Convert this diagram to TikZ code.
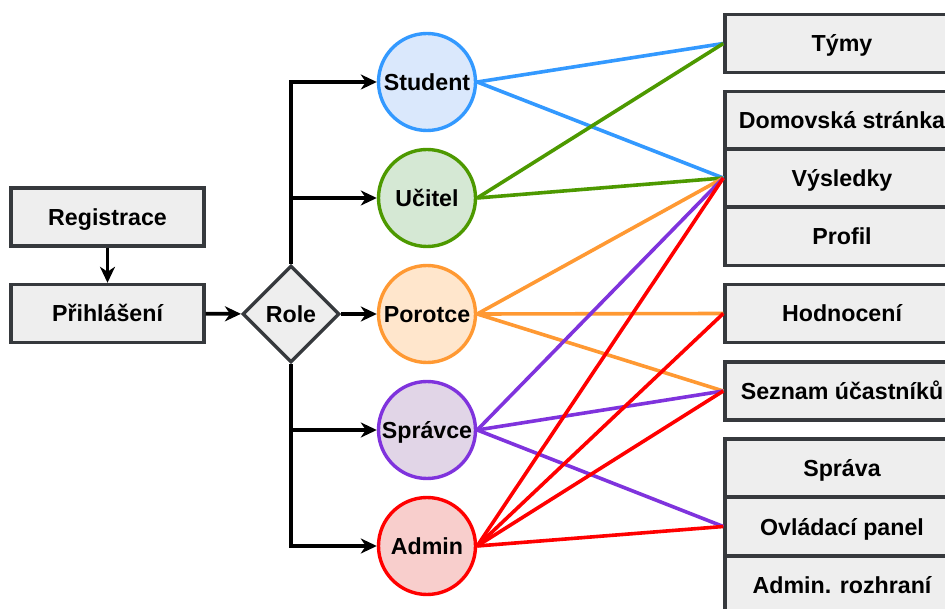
\documentclass[tikz,border=0pt]{standalone}
\usepackage{fontspec}
\setmainfont{Liberation Sans}
\usetikzlibrary{shapes.geometric,arrows.meta}
\definecolor{boxfill}{HTML}{EEEEEE}
\definecolor{boxline}{HTML}{36393D}
\definecolor{cblue}{HTML}{3399FF}
\definecolor{fblue}{HTML}{DAE8FC}
\definecolor{cgreen}{HTML}{4D9900}
\definecolor{fgreen}{HTML}{D5E8D4}
\definecolor{corange}{HTML}{FF9933}
\definecolor{forange}{HTML}{FFE6CC}
\definecolor{cpurple}{HTML}{7F33DD}
\definecolor{fpurple}{HTML}{E1D5E7}
\definecolor{cred}{HTML}{FF0000}
\definecolor{fred}{HTML}{F8CECC}
\tikzset{
  lbl/.style={font=\fontsize{23.2}{27}\selectfont\bfseries, text height=17pt, text depth=0pt},
  sbox/.style={lbl, draw=boxline, fill=boxfill, line width=3.4pt, rectangle, minimum width=234pt, minimum height=58pt, inner sep=0pt},
  lbox/.style={lbl, draw=boxline, fill=boxfill, line width=3.4pt, rectangle, minimum width=193pt, minimum height=58pt, inner sep=0pt},
  role/.style={circle, line width=3.4pt, minimum size=97pt, inner sep=0pt, lbl},
  dia/.style={lbl, diamond, draw=boxline, fill=boxfill, line width=3.4pt, minimum width=97pt, minimum height=97pt, inner sep=0pt, aspect=1},
  arr/.style={line width=3.8pt, -{Stealth[length=16pt,width=15pt,inset=5pt]}},
  link/.style={line width=3.6pt}
}
\begin{document}
\begin{tikzpicture}[x=1pt,y=-1pt]
\useasboundingbox (0,0) rectangle (945,609);
% left flow
\node[lbox] (reg) at (107.5,217) {Registrace};
\node[lbox] (login) at (107.5,313.5) {Přihlášení};
\node[dia] (role) at (291,314) {Role};
% roles
\node[role, draw=cblue, fill=fblue] (stud) at (427,82) {Student};
\node[role, draw=cgreen, fill=fgreen] (teach) at (427,198) {Učitel};
\node[role, draw=corange, fill=forange] (jury) at (427,314) {Porotce};
\node[role, draw=cpurple, fill=fpurple] (mgr) at (427,430) {Správce};
\node[role, draw=cred, fill=fred] (adm) at (427,546) {Admin};
% right boxes
\node[sbox] (teams) at (842,43.5) {Týmy};
\node[sbox] (home) at (842,120.5) {Domovská stránka};
\node[sbox] (res) at (842,178) {Výsledky};
\node[sbox] (prof) at (842,236.5) {Profil};
\node[sbox] (eval) at (842,313.5) {Hodnocení};
\node[sbox] (list) at (842,391) {Seznam účastníků};
\node[sbox] (spr) at (842,468) {Správa};
\node[sbox] (dash) at (842,526.5) {Ovládací panel};
\node[sbox] (admui) at (842,585) {Admin. rozhraní};
% black arrows
\draw[arr] (reg) -- (login);
\draw[arr] (login) -- (role);
\draw[arr] (role.north) |- (stud.west);
\draw[arr] (role.north) |- (teach.west);
\draw[arr] (role) -- (jury);
\draw[arr] (role.south) |- (mgr.west);
\draw[arr] (role.south) |- (adm.west);
% colored links
\draw[link, cblue] (stud.east) -- (teams.west);
\draw[link, cblue] (stud.east) -- (res.west);
\draw[link, cgreen] (teach.east) -- (teams.west);
\draw[link, cgreen] (teach.east) -- (res.west);
\draw[link, corange] (jury.east) -- (res.west);
\draw[link, corange] (jury.east) -- (eval.west);
\draw[link, corange] (jury.east) -- (list.west);
\draw[link, cpurple] (mgr.east) -- (res.west);
\draw[link, cpurple] (mgr.east) -- (list.west);
\draw[link, cpurple] (mgr.east) -- (dash.west);
\draw[link, cred] (adm.east) -- (res.west);
\draw[link, cred] (adm.east) -- (eval.west);
\draw[link, cred] (adm.east) -- (list.west);
\draw[link, cred] (adm.east) -- (dash.west);
\end{tikzpicture}
\end{document}
